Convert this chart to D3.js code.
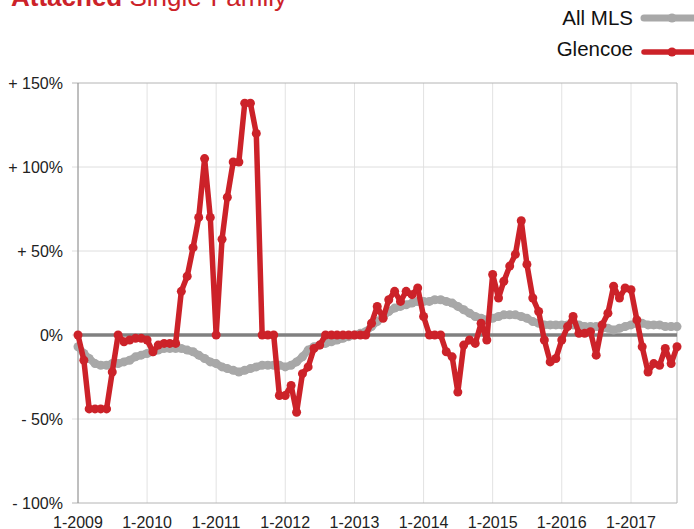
<!DOCTYPE html>
<html>
<head>
<meta charset="utf-8">
<script src="https://cdn.jsdelivr.net/npm/d3@7"></script>
<style>
  body { margin: 0; background: #fff; }
  svg { display: block; font-family: "Liberation Sans", Arial, sans-serif; }
</style>
</head>
<body>
<svg id="chart" width="694" height="529"></svg>
<script>
// monthly, 1-2009 .. 9-2017
var months = d3.timeMonth.range(new Date(2009, 0, 1), new Date(2017, 9, 1))

var allMLS = [
  -7, -11, -14, -17, -18, -18, -17, -17, -16, -15, -13, -12,
  -11, -10, -9, -8, -8, -8, -8, -9, -10, -12, -14, -16,
  -17, -19, -20, -21, -22, -21, -20, -19, -18, -18, -18, -18,
  -19, -18, -16, -13, -9, -7, -6, -5, -4, -3, -2, -1,
  0, 1, 2, 5, 8, 11, 14, 16, 17, 18, 19, 20,
  20, 20, 21, 21, 20, 19, 17, 15, 13, 11, 10, 9,
  10, 11, 12, 12, 12, 11, 10, 8, 7, 6, 6, 6,
  6, 6, 6, 6, 5, 5, 5, 4, 4, 3, 4, 5,
  6, 7, 7, 6, 6, 6, 5, 5, 5
]

var glencoe = [
  0, -15, -44, -44, -44, -44, -22, 0, -4, -3, -2, -2,
  -3, -10, -6, -5, -5, -5, 26, 35, 52, 70, 105, 70,
  0, 57, 82, 103, 103, 138, 138, 120, 0, 0, 0, -36,
  -36, -30, -46, -23, -19, -8, -6, 0, 0, 0, 0, 0,
  0, 0, 0, 7, 17, 10, 21, 26, 20, 26, 24, 28,
  11, 0, 0, 0, -10, -13, -34, -6, -3, -5, 7, -3,
  36, 22, 32, 41, 48, 68, 42, 22, 14, -3, -16, -14,
  -3, 5, 11, 1, 1, 2, -12, 6, 13, 29, 22, 28,
  27, 9, -7, -22, -17, -18, -8, -17, -7
]

var yTicks = [150, 100, 50, 0, -50, -100]
var yTickLabels = ["+ 150%", "+ 100%", "+ 50%", "0%", "- 50%", "- 100%"]
var xTickYears = [2009, 2010, 2011, 2012, 2013, 2014, 2015, 2016, 2017]
var xTickLabels = ["1-2009", "1-2010", "1-2011", "1-2012", "1-2013", "1-2014", "1-2015", "1-2016", "1-2017"]

var red = "#cc2229"
var grey = "#a8a8a8"

var width = 694, height = 529
var margin = { top: 83, right: 17, bottom: 26, left: 78 }

var svg = d3.select("#chart")

var x = d3.scaleTime()
  .domain([months[0], months[months.length - 1]])
  .range([margin.left, width - margin.right])

var y = d3.scaleLinear()
  .domain([-100, 150])
  .range([height - margin.bottom, margin.top])

// title (cut off at the top of the image)
var title = svg.append("text")
  .attr("x", 11)
  .attr("y", 6)
  .attr("fill", red)
  .style("font-size", "26px")
title.append("tspan").style("font-weight", "bold").text("Attached")
title.append("tspan").text(" Single-Family")

// vertical grid
svg.append("g")
  .selectAll("line")
  .data(xTickYears)
  .enter()
  .append("line")
  .attr("x1", function (d) { return x(new Date(d, 0, 1)) })
  .attr("x2", function (d) { return x(new Date(d, 0, 1)) })
  .attr("y1", margin.top)
  .attr("y2", height - margin.bottom)
  .attr("stroke", "#e2e2e2")
  .attr("stroke-width", 1)

// horizontal grid
svg.append("g")
  .selectAll("line")
  .data(yTicks)
  .enter()
  .append("line")
  .attr("x1", margin.left - 6)
  .attr("x2", width - margin.right)
  .attr("y1", function (d) { return y(d) })
  .attr("y2", function (d) { return y(d) })
  .attr("stroke", function (d) { return (d == 150 || d == -100) ? "#b4b4b4" : "#dedede" })
  .attr("stroke-width", 1)

// frame sides
svg.append("line")
  .attr("x1", margin.left).attr("x2", margin.left)
  .attr("y1", margin.top).attr("y2", height - margin.bottom)
  .attr("stroke", "#8c8c8c")
svg.append("line")
  .attr("x1", width - margin.right).attr("x2", width - margin.right)
  .attr("y1", margin.top).attr("y2", height - margin.bottom)
  .attr("stroke", "#b4b4b4")

// zero line
svg.append("line")
  .attr("x1", margin.left)
  .attr("x2", width - margin.right)
  .attr("y1", y(0))
  .attr("y2", y(0))
  .attr("stroke", "#808080")
  .attr("stroke-width", 3.5)

// y labels
svg.append("g")
  .selectAll("text")
  .data(yTicks)
  .enter()
  .append("text")
  .attr("x", 63)
  .attr("y", function (d) { return y(d) + 5.5 })
  .attr("text-anchor", "end")
  .style("font-size", "16px")
  .attr("fill", "#222")
  .text(function (d, i) { return yTickLabels[i] })

// x labels
svg.append("g")
  .selectAll("text")
  .data(xTickYears)
  .enter()
  .append("text")
  .attr("x", function (d) { return x(new Date(d, 0, 1)) })
  .attr("y", 528)
  .attr("text-anchor", "middle")
  .style("font-size", "16px")
  .attr("fill", "#222")
  .text(function (d, i) { return xTickLabels[i] })

var line = d3.line()
  .x(function (d, i) { return x(months[i]) })
  .y(function (d) { return y(d) })

function drawSeries(values, color, lw, r) {
  svg.append("path")
    .datum(values)
    .attr("d", line)
    .attr("fill", "none")
    .attr("stroke", color)
    .attr("stroke-width", lw)
    .attr("stroke-linejoin", "round")
  svg.append("g")
    .selectAll("circle")
    .data(values)
    .enter()
    .append("circle")
    .attr("cx", function (d, i) { return x(months[i]) })
    .attr("cy", function (d) { return y(d) })
    .attr("r", r)
    .attr("fill", color)
}

drawSeries(allMLS, grey, 7.5, 4.5)
drawSeries(glencoe, red, 5.5, 4.5)

// legend
var legend = [
  { name: "All MLS", color: grey, lw: 7, r: 4.5, ty: 25, ly: 18 },
  { name: "Glencoe", color: red, lw: 5.5, r: 4.5, ty: 56, ly: 52 }
]
legend.forEach(function (l) {
  svg.append("text")
    .attr("x", 633)
    .attr("y", l.ty)
    .attr("text-anchor", "end")
    .style("font-size", "20.5px")
    .attr("fill", "#111")
    .text(l.name)
  svg.append("line")
    .attr("x1", 644).attr("x2", 700)
    .attr("y1", l.ly).attr("y2", l.ly)
    .attr("stroke", l.color)
    .attr("stroke-width", l.lw)
    .attr("stroke-linecap", "round")
  svg.append("circle")
    .attr("cx", 672).attr("cy", l.ly)
    .attr("r", l.r)
    .attr("fill", l.color)
})
</script>
</body>
</html>
